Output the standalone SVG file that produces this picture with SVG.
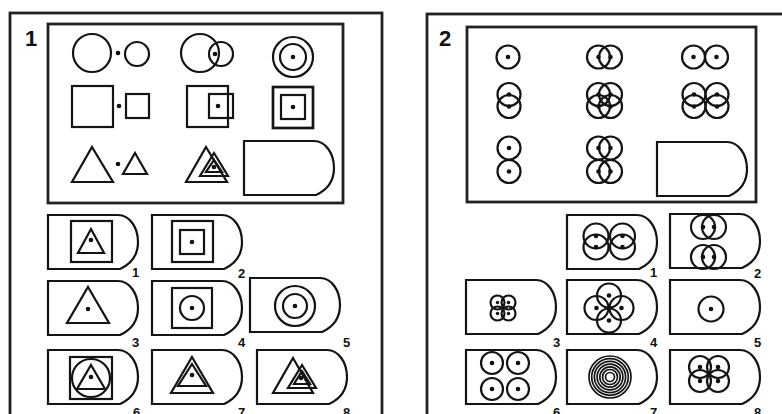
<svg xmlns="http://www.w3.org/2000/svg" xmlns:xlink="http://www.w3.org/1999/xlink" width="782" height="414" viewBox="0 0 782 414">
<style>
.f{fill:none;stroke:#141414;stroke-width:2.2}
.fr{fill:none;stroke:#222;stroke-width:2.8}
.d{fill:#111}
.t{font-family:"Liberation Sans",Arial,sans-serif;font-weight:bold;fill:#111}
.lb{font-size:13px}
.pn{font-size:22px}
</style>
<defs>
<path id="tag" class="f" d="M0,0 H70 C82,0 90,13 90,27 C90,40 83,49 72,54 H0 Z"/>
<circle id="dt" class="d" r="2.3"/>
<circle id="dts" class="d" r="1.7"/>
</defs>
<rect width="782" height="414" fill="#fff"/>

<g id="panel1">
<rect class="fr" x="10" y="13" width="372" height="460"/>
<text class="t pn" x="25" y="46">1</text>
<rect class="fr" x="48" y="24" width="295" height="179"/>
</g>

<g id="p1-q-r1c1"><circle class="f" cx="92" cy="53" r="19"/><use href="#dt" x="118" y="53"/><circle class="f" cx="137" cy="54" r="12"/></g>
<g id="p1-q-r1c2"><circle class="f" cx="200" cy="53" r="19"/><circle class="f" cx="221" cy="54" r="12"/><use href="#dt" x="215" y="54"/></g>
<g id="p1-q-r1c3"><circle class="f" cx="293" cy="57" r="20"/><circle class="f" cx="293" cy="57" r="13"/><use href="#dt" x="293" y="57"/></g>
<g id="p1-q-r2c1"><rect class="f" x="72" y="86" width="41" height="41"/><use href="#dt" x="119" y="106"/><rect class="f" x="126" y="94" width="23" height="24"/></g>
<g id="p1-q-r2c2"><rect class="f" x="187" y="86" width="41" height="41"/><rect class="f" x="209" y="94" width="24" height="24"/><use href="#dt" x="218" y="106"/></g>
<g id="p1-q-r2c3"><rect class="f" x="273" y="87" width="40" height="41" style="stroke-width:2.7"/><rect class="f" x="281" y="95" width="24" height="24"/><use href="#dt" x="293" y="107"/></g>
<g id="p1-q-r3c1"><polygon class="f" points="92,147 113,182 72,182"/><use href="#dt" x="118" y="164"/><polygon class="f" points="135,153 147,174 123,174"/></g>
<g id="p1-q-r3c2"><polygon class="f" points="206,147 227,182 186,182"/><polygon class="f" points="214,153 228,176 200,176"/><polygon class="f" points="214,160 222,172 206,172"/><use href="#dt" x="214" y="167"/></g>
<g id="p1-q-blank"><use href="#tag" x="244" y="141"/></g>

<g id="p1-o1"><use href="#tag" x="48" y="215"/><rect class="f" x="71" y="221" width="41" height="41"/><polygon class="f" points="91,229 104,253 78,253"/><use href="#dt" x="91" y="240"/><text class="t lb" x="132" y="277">1</text></g>
<g id="p1-o2"><use href="#tag" x="152" y="215"/><rect class="f" x="172" y="221" width="41" height="41"/><rect class="f" x="180" y="230" width="24" height="24"/><use href="#dt" x="192" y="242"/><text class="t lb" x="238" y="278">2</text></g>
<g id="p1-o3"><use href="#tag" x="48" y="281"/><polygon class="f" points="88,287 109,323 67,323"/><use href="#dt" x="88" y="309"/><text class="t lb" x="132" y="347">3</text></g>
<g id="p1-o4"><use href="#tag" x="152" y="281"/><rect class="f" x="172" y="288" width="40" height="40"/><circle class="f" cx="192" cy="308" r="12"/><use href="#dt" x="192" y="308"/><text class="t lb" x="238" y="347">4</text></g>
<g id="p1-o5"><use href="#tag" x="250" y="278"/><circle class="f" cx="295" cy="306" r="20"/><circle class="f" cx="295" cy="306" r="12"/><use href="#dt" x="295" y="306"/><text class="t lb" x="343" y="347">5</text></g>
<g id="p1-o6"><use href="#tag" x="48" y="350"/><rect class="f" x="70" y="357" width="42" height="42"/><circle class="f" cx="91" cy="378" r="19"/><polygon class="f" points="91,365 105,389 77,389"/><use href="#dt" x="91" y="377"/><text class="t lb" x="133" y="417">6</text></g>
<g id="p1-o7"><use href="#tag" x="152" y="350"/><polygon class="f" points="192,357 213,393 171,393"/><polygon class="f" points="192,364 206,386 178,386"/><use href="#dt" x="192" y="375"/><text class="t lb" x="238" y="417">7</text></g>
<g id="p1-o8"><use href="#tag" x="257" y="350"/><polygon class="f" points="293,358 313,393 273,393"/><polygon class="f" points="302,365 316,388 288,388"/><polygon class="f" points="302,371 310,384 294,384"/><use href="#dt" x="301" y="378"/><text class="t lb" x="343" y="417">8</text></g>

<g id="panel2">
<rect class="fr" x="427" y="14" width="420" height="460"/>
<text class="t pn" x="439" y="46">2</text>
<rect class="fr" x="467" y="27" width="289" height="175"/>
</g>

<g id="p2-q-r1c1"><circle class="f" cx="508" cy="57" r="11.5"/><use href="#dt" x="508" y="57"/></g>
<g id="p2-q-r1c2"><circle class="f" cx="598.5" cy="57" r="11.5"/><circle class="f" cx="610.5" cy="57" r="11.5"/><use href="#dt" x="598.5" y="57"/><use href="#dt" x="610.5" y="57"/></g>
<g id="p2-q-r1c3"><circle class="f" cx="693.5" cy="57" r="11.5"/><circle class="f" cx="716.5" cy="57" r="11.5"/><use href="#dt" x="693.5" y="57"/><use href="#dt" x="716.5" y="57"/></g>
<g id="p2-q-r2c1"><circle class="f" cx="509" cy="94.5" r="11.5"/><circle class="f" cx="509" cy="106.5" r="11.5"/><use href="#dt" x="509" y="94.5"/><use href="#dt" x="509" y="106.5"/></g>
<g id="p2-q-r2c2"><circle class="f" cx="598.5" cy="94.5" r="11.5"/><circle class="f" cx="610.5" cy="94.5" r="11.5"/><circle class="f" cx="598.5" cy="106.5" r="11.5"/><circle class="f" cx="610.5" cy="106.5" r="11.5"/><use href="#dt" x="598.5" y="94.5"/><use href="#dt" x="610.5" y="94.5"/><use href="#dt" x="598.5" y="106.5"/><use href="#dt" x="610.5" y="106.5"/></g>
<g id="p2-q-r2c3"><circle class="f" cx="694" cy="94.5" r="11.5"/><circle class="f" cx="694" cy="106.5" r="11.5"/><circle class="f" cx="717" cy="94.5" r="11.5"/><circle class="f" cx="717" cy="106.5" r="11.5"/><use href="#dt" x="694" y="94.5"/><use href="#dt" x="694" y="106.5"/><use href="#dt" x="717" y="94.5"/><use href="#dt" x="717" y="106.5"/></g>
<g id="p2-q-r3c1"><circle class="f" cx="509" cy="148" r="11.5"/><circle class="f" cx="509" cy="171.5" r="11.5"/><use href="#dt" x="509" y="148"/><use href="#dt" x="509" y="171.5"/></g>
<g id="p2-q-r3c2"><circle class="f" cx="598.5" cy="148" r="11.5"/><circle class="f" cx="610.5" cy="148" r="11.5"/><circle class="f" cx="598.5" cy="171.5" r="11.5"/><circle class="f" cx="610.5" cy="171.5" r="11.5"/><use href="#dt" x="598.5" y="148"/><use href="#dt" x="610.5" y="148"/><use href="#dt" x="598.5" y="171.5"/><use href="#dt" x="610.5" y="171.5"/></g>
<g id="p2-q-blank"><use href="#tag" x="657" y="142"/></g>

<g id="p2-o1"><use href="#tag" x="567" y="215"/><circle class="f" cx="596" cy="236" r="12.5"/><circle class="f" cx="596" cy="247" r="12.5"/><circle class="f" cx="622.5" cy="236" r="12.5"/><circle class="f" cx="622.5" cy="247" r="12.5"/><use href="#dt" x="596" y="236"/><use href="#dt" x="596" y="247"/><use href="#dt" x="622.5" y="236"/><use href="#dt" x="622.5" y="247"/><text class="t lb" x="650" y="277">1</text></g>
<g id="p2-o2"><use href="#tag" x="670" y="214"/><circle class="f" cx="703" cy="227" r="12"/><circle class="f" cx="714" cy="227" r="12"/><circle class="f" cx="703" cy="257" r="12"/><circle class="f" cx="714" cy="257" r="12"/><use href="#dt" x="703" y="227"/><use href="#dt" x="714" y="227"/><use href="#dt" x="703" y="257"/><use href="#dt" x="714" y="257"/><text class="t lb" x="754" y="278">2</text></g>
<g id="p2-o3"><use href="#tag" x="466" y="280"/><circle class="f" cx="497.5" cy="302.5" r="7"/><circle class="f" cx="508.5" cy="302.5" r="7"/><circle class="f" cx="497.5" cy="313.5" r="7"/><circle class="f" cx="508.5" cy="313.5" r="7"/><use href="#dts" x="497.5" y="302.5"/><use href="#dts" x="508.5" y="302.5"/><use href="#dts" x="497.5" y="313.5"/><use href="#dts" x="508.5" y="313.5"/><text class="t lb" x="553" y="347">3</text></g>
<g id="p2-o4"><use href="#tag" x="567" y="280"/><circle class="f" cx="609" cy="295.5" r="12"/><circle class="f" cx="609" cy="320.5" r="12"/><circle class="f" cx="596.5" cy="308" r="12"/><circle class="f" cx="621.5" cy="308" r="12"/><use href="#dt" x="609" y="295.5"/><use href="#dt" x="609" y="320.5"/><use href="#dt" x="596.5" y="308"/><use href="#dt" x="621.5" y="308"/><text class="t lb" x="650" y="347">4</text></g>
<g id="p2-o5"><use href="#tag" x="670" y="280"/><circle class="f" cx="711" cy="309" r="12.5"/><use href="#dt" x="711" y="309"/><text class="t lb" x="754" y="347">5</text></g>
<g id="p2-o6"><use href="#tag" x="466" y="350"/><circle class="f" cx="492" cy="363" r="11"/><circle class="f" cx="518" cy="363" r="11"/><circle class="f" cx="492" cy="389" r="11"/><circle class="f" cx="518" cy="389" r="11"/><use href="#dt" x="492" y="363"/><use href="#dt" x="518" y="363"/><use href="#dt" x="492" y="389"/><use href="#dt" x="518" y="389"/><text class="t lb" x="553" y="417">6</text></g>
<g id="p2-o7"><use href="#tag" x="567" y="350"/><g class="f" style="stroke-width:1.7"><circle cx="610" cy="377" r="21"/><circle cx="610" cy="377" r="18.3"/><circle cx="610" cy="377" r="15.6"/><circle cx="610" cy="377" r="12.9"/><circle cx="610" cy="377" r="10.2"/><circle cx="610" cy="377" r="7.5"/><circle cx="610" cy="377" r="4.5"/></g><text class="t lb" x="650" y="417">7</text></g>
<g id="p2-o8"><use href="#tag" x="670" y="350"/><circle class="f" cx="700" cy="367" r="11"/><circle class="f" cx="718" cy="367" r="11"/><circle class="f" cx="700" cy="381" r="11"/><circle class="f" cx="718" cy="381" r="11"/><use href="#dt" x="700" y="367"/><use href="#dt" x="718" y="367"/><use href="#dt" x="700" y="381"/><use href="#dt" x="718" y="381"/><text class="t lb" x="754" y="417">8</text></g>

<g id="connectors"></g>
</svg>
